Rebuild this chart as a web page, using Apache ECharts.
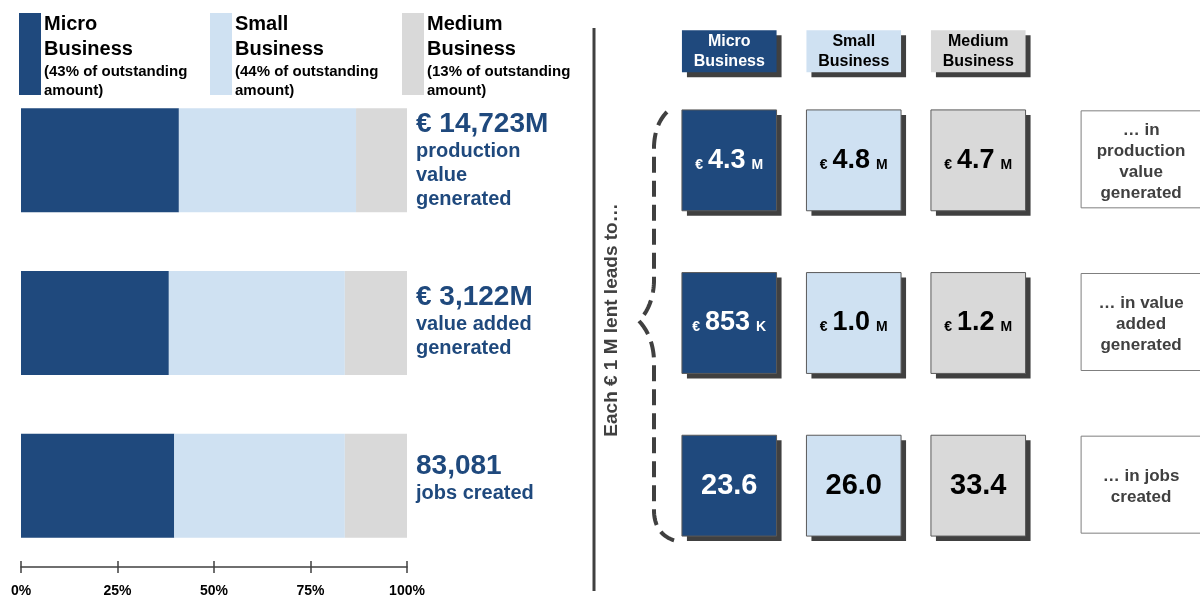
<!DOCTYPE html>
<html>
<head>
<meta charset="utf-8">
<script src="https://cdn.jsdelivr.net/npm/echarts@6/dist/echarts.min.js"></script>
<style>
  html, body { margin: 0; padding: 0; background: #fff; }
  #chart { width: 1200px; height: 599px; }
</style>
</head>
<body>
<div id="chart"></div>
<script>
// ---- data ----
const segments = ['Micro Business', 'Small Business', 'Medium Business'];
const loanShares = [43, 44, 13];                       // % of outstanding amount
const metrics = ['Production value', 'Value added', 'Jobs'];
const microShare = [40.9, 38.3, 39.7];                 // % of each total
const smallShare = [45.9, 45.6, 44.2];
const mediumShare = [13.2, 16.1, 16.1];
const totalLabels = ['€ 14,723M', '€ 3,122M', '83,081'];
const totalCaptions = ['production\nvalue\ngenerated', 'value added\ngenerated', 'jobs created'];
const axisTicks = [0, 25, 50, 75, 100];
const productionPerMillion = [4.3, 4.8, 4.7];          // € M per € 1 M lent
const valueAddedPerMillion = [0.853, 1.0, 1.2];        // € M per € 1 M lent
const jobsPerMillion = [23.6, 26.0, 33.4];             // jobs per € 1 M lent
const rowCaptions = ['… in\nproduction\nvalue\ngenerated', '… in value\nadded\ngenerated', '… in jobs\ncreated'];
const leadText = 'Each € 1 M lent leads to…';

// ---- styling ----
const FONT = '"Liberation Sans", Arial, Helvetica, sans-serif';
const COLORS = ['#1F497D', '#CFE1F2', '#D9D9D9'];
const TEXT_COLORS = ['#ffffff', '#000000', '#000000'];
const NAVY_TEXT = '#1F497D';
const DARK = '#404040';
const LABEL_COL = 3.3;       // x position (in column units) of the caption boxes
const HEADER_OFFSET = 109;   // px between header boxes and first row of cells

const perMillionRows = [productionPerMillion, valueAddedPerMillion, jobsPerMillion];
const cellData = [];
perMillionRows.forEach((arr, r) => arr.forEach((v, c) => cellData.push([c, r, v])));

function moneyRich(v) {
  if (v < 1) return '{e|€}{n|' + Math.round(v * 1000) + '}{u|K}';
  return '{e|€}{n|' + v.toFixed(1) + '}{u|M}';
}

// small currency / unit tokens are pushed down so they share the baseline of the number
function cellRich(color) {
  const base = { fontFamily: FONT, fontWeight: 'bold', fill: color, verticalAlign: 'middle' };
  return {
    e: Object.assign({}, base, { fontSize: 14, padding: [9, 5, 0, 0] }),
    n: Object.assign({}, base, { fontSize: 27 }),
    u: Object.assign({}, base, { fontSize: 14, padding: [9, 0, 0, 6] }),
    j: Object.assign({}, base, { fontSize: 29 })
  };
}

function renderCell(params, api) {
  const col = api.value(0), row = api.value(1), v = api.value(2);
  const p = api.coord([col, row]);
  const s = api.size([1, 1]);
  const w = s[0] * 0.76, h = s[1] * 0.62;
  const x = p[0] - w / 2, y = p[1] - h / 2;
  const txt = row === 2 ? '{j|' + v.toFixed(1) + '}' : moneyRich(v);
  return {
    type: 'group',
    children: [
      { type: 'rect', shape: { x: x + 5, y: y + 5, width: w, height: h }, style: { fill: DARK } },
      { type: 'rect', shape: { x: x, y: y, width: w, height: h }, style: { fill: COLORS[col], stroke: '#5a5a5a', lineWidth: 1 } },
      { type: 'text', x: p[0], y: p[1], style: {
          text: txt, align: 'center', verticalAlign: 'middle',
          fill: TEXT_COLORS[col], rich: cellRich(TEXT_COLORS[col]) } }
    ]
  };
}

function renderHeader(params, api) {
  const col = api.value(0);
  const p = api.coord([col, 0]);
  const s = api.size([1, 1]);
  const w = s[0] * 0.76, h = 42;
  const cy = p[1] - HEADER_OFFSET;
  const x = p[0] - w / 2, y = cy - h / 2;
  return {
    type: 'group',
    children: [
      { type: 'rect', shape: { x: x + 5, y: y + 5, width: w, height: h }, style: { fill: DARK } },
      { type: 'rect', shape: { x: x, y: y, width: w, height: h }, style: { fill: COLORS[col] } },
      { type: 'text', x: p[0], y: cy, style: {
          text: segments[params.dataIndex].replace(' ', '\n'),
          align: 'center', verticalAlign: 'middle',
          font: 'bold 16px ' + FONT, lineHeight: 20, fill: TEXT_COLORS[col] } }
    ]
  };
}

function renderCaption(params, api) {
  const row = api.value(1);
  const p = api.coord([LABEL_COL, row]);
  const w = 126, h = 97;
  const x = p[0] - 59, y = p[1] - h / 2 - 1;
  return {
    type: 'group',
    children: [
      { type: 'rect', shape: { x: x, y: y, width: w, height: h }, style: { fill: '#fff', stroke: '#7f7f7f', lineWidth: 1 } },
      { type: 'text', x: x + 60, y: p[1] + 1, style: {
          text: rowCaptions[params.dataIndex], align: 'center', verticalAlign: 'middle',
          font: 'bold 17px ' + FONT, lineHeight: 21, fill: DARK } }
    ]
  };
}

// dashed brace: quadratic segments sampled into one polyline so the dash runs continuously
function bracePoints() {
  const segs = [
    [[667, 112], [655, 124], [654, 146]],
    [[654, 146], [654, 214], [654, 282]],
    [[654, 282], [653, 306], [639, 321]],
    [[639, 321], [653, 336], [654, 360]],
    [[654, 360], [654, 436], [654, 512]],
    [[654, 512], [655, 535], [676, 541]]
  ];
  const pts = [];
  segs.forEach((sg, k) => {
    for (let i = (k === 0 ? 0 : 1); i <= 20; i++) {
      const t = i / 20, a = (1 - t) * (1 - t), b = 2 * t * (1 - t), c = t * t;
      pts.push([a * sg[0][0] + b * sg[1][0] + c * sg[2][0], a * sg[0][1] + b * sg[1][1] + c * sg[2][1]]);
    }
  });
  return pts;
}

// legend blocks (rectangle + stacked caption) above the bars
const legendGraphics = [];
const legendX = [19, 210, 402];
segments.forEach((name, i) => {
  legendGraphics.push({
    type: 'rect', x: legendX[i], y: 13,
    shape: { x: 0, y: 0, width: 22, height: 82 }, style: { fill: COLORS[i] }
  });
  const parts = name.split(' ');
  legendGraphics.push({
    type: 'text', x: legendX[i] + 25, y: 12,
    style: {
      text: '{h|' + parts[0] + '}\n{h|' + parts[1] + '}\n{s|(' + loanShares[i] + '% of outstanding}\n{s|amount)}',
      rich: {
        h: { fontFamily: FONT, fontWeight: 'bold', fontSize: 20, lineHeight: 25, fill: '#000' },
        s: { fontFamily: FONT, fontWeight: 'bold', fontSize: 15, lineHeight: 19, fill: '#000' }
      }
    }
  });
});

const chart = echarts.init(document.getElementById('chart'), null, { renderer: 'canvas' });

chart.setOption({
  animation: false,
  backgroundColor: '#ffffff',
  textStyle: { fontFamily: FONT },
  grid: [
    { left: 21, width: 386, top: 79, height: 488 },
    { left: 667, width: 498, top: 79, height: 488 }
  ],
  xAxis: [
    {
      type: 'value', gridIndex: 0, position: 'bottom',
      min: axisTicks[0], max: axisTicks[axisTicks.length - 1], interval: axisTicks[1] - axisTicks[0],
      axisLine: { show: true, lineStyle: { color: DARK, width: 1.5 } },
      axisTick: { show: true, length: 6, lineStyle: { color: DARK, width: 1.5 } },
      axisLabel: { formatter: '{value}%', fontWeight: 'bold', fontSize: 14, color: '#000', margin: 17 },
      splitLine: { show: false }
    },
    {
      type: 'value', gridIndex: 1, min: -0.5, max: 3.5, show: false
    },
    {
      type: 'value', gridIndex: 0, position: 'bottom', offset: 0,
      min: axisTicks[0], max: axisTicks[axisTicks.length - 1], interval: axisTicks[1] - axisTicks[0],
      axisLine: { show: false },
      axisTick: { show: true, inside: true, length: 6, lineStyle: { color: DARK, width: 1.5 } },
      axisLabel: { show: false },
      splitLine: { show: false }
    }
  ],
  yAxis: [
    { type: 'category', gridIndex: 0, data: metrics, inverse: true, show: false },
    { type: 'value', gridIndex: 1, min: -0.5, max: 2.5, inverse: true, show: false }
  ],
  series: [
    {
      name: segments[0], type: 'bar', stack: 'share', xAxisIndex: 0, yAxisIndex: 0,
      barWidth: 104, data: microShare, itemStyle: { color: COLORS[0] }
    },
    {
      name: segments[1], type: 'bar', stack: 'share', xAxisIndex: 0, yAxisIndex: 0,
      barWidth: 104, data: smallShare, itemStyle: { color: COLORS[1] }
    },
    {
      name: segments[2], type: 'bar', stack: 'share', xAxisIndex: 0, yAxisIndex: 0,
      barWidth: 104, itemStyle: { color: COLORS[2] },
      // the short last caption block sits a little higher than the bar's centre
      data: mediumShare.map((v, i) => ({ value: v, label: { offset: [0, [0, -2, -7][i]] } })),
      label: {
        show: true, position: 'right', distance: 9, align: 'left',
        formatter: (p) => '{t|' + totalLabels[p.dataIndex] + '}\n' +
          totalCaptions[p.dataIndex].split('\n').map((l) => '{c|' + l + '}').join('\n'),
        rich: {
          t: { fontFamily: FONT, fontWeight: 'bold', fontSize: 28, lineHeight: 30, color: NAVY_TEXT },
          c: { fontFamily: FONT, fontWeight: 'bold', fontSize: 20, lineHeight: 24, color: NAVY_TEXT }
        }
      }
    },
    {
      name: 'headers', type: 'custom', xAxisIndex: 1, yAxisIndex: 1,
      renderItem: renderHeader, data: segments.map((s, i) => [i, 0]), silent: true
    },
    {
      name: 'per € 1 M', type: 'custom', xAxisIndex: 1, yAxisIndex: 1,
      renderItem: renderCell, data: cellData, silent: true
    },
    {
      name: 'captions', type: 'custom', xAxisIndex: 1, yAxisIndex: 1,
      renderItem: renderCaption, data: rowCaptions.map((c, r) => [0, r]), silent: true
    }
  ],
  graphic: legendGraphics.concat([
    // divider between the two panels
    { type: 'line', shape: { x1: 594, y1: 28, x2: 594, y2: 591 }, style: { stroke: DARK, lineWidth: 3 } },
    // rotated lead-in text
    {
      type: 'text', x: 612, y: 320, rotation: Math.PI / 2,
      style: { text: leadText, font: 'bold 19px ' + FONT, fill: DARK, align: 'center', verticalAlign: 'middle' }
    },
    // dashed brace
    {
      type: 'polyline',
      shape: { points: bracePoints() },
      style: { fill: null, stroke: DARK, lineWidth: 4, lineDash: [16, 8] }
    }
  ])
});
</script>
</body>
</html>
